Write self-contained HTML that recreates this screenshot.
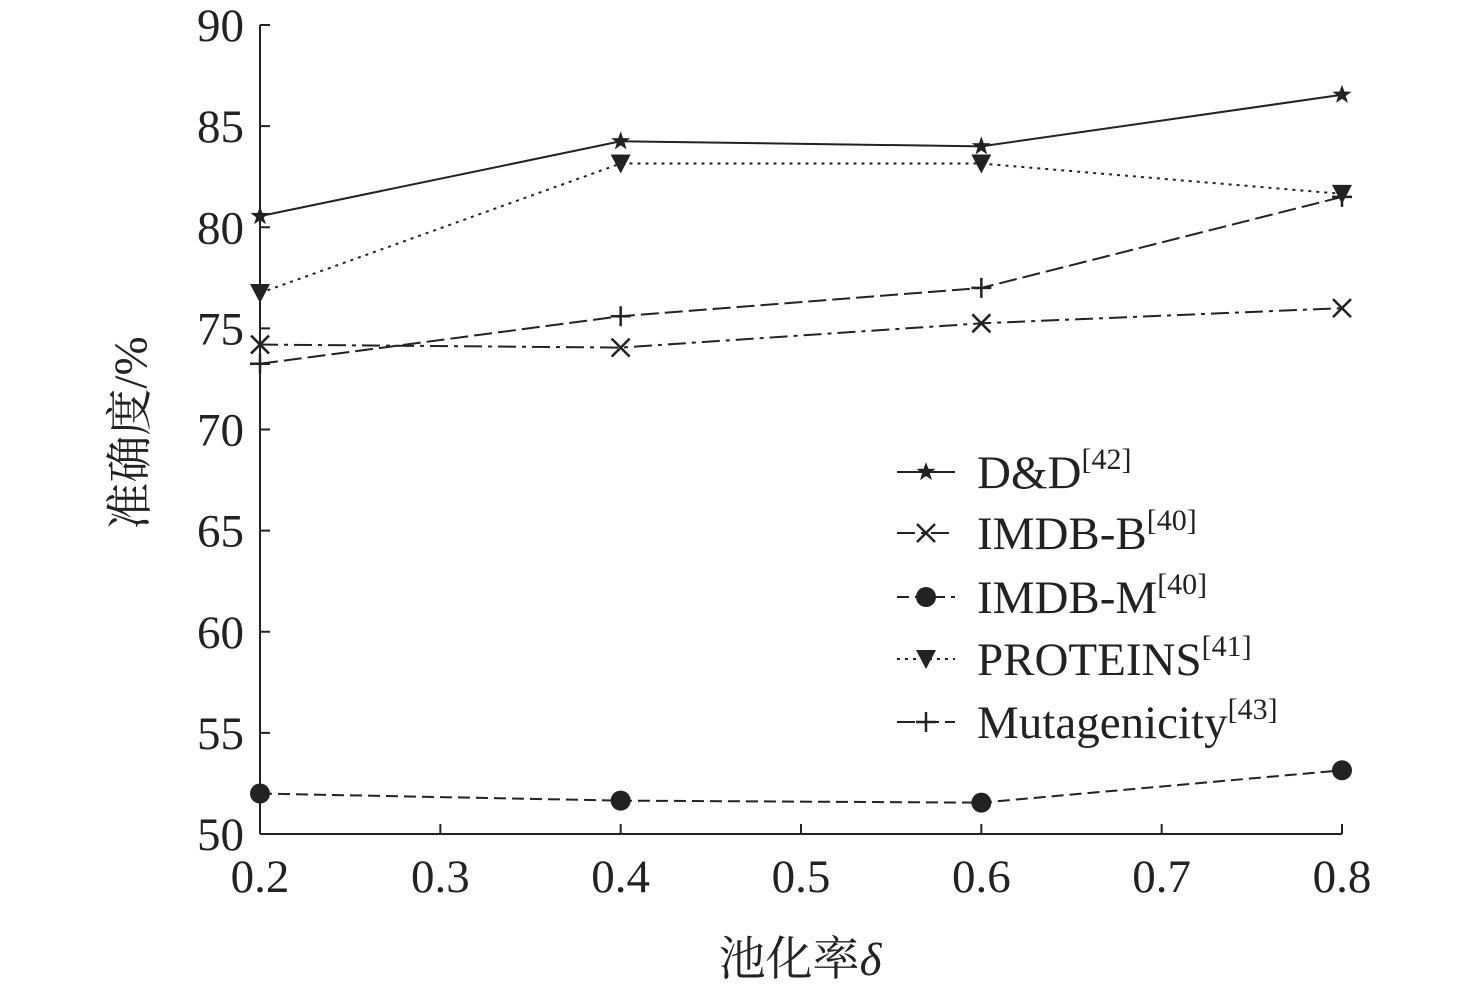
<!DOCTYPE html>
<html><head><meta charset="utf-8"><style>
body{margin:0;background:#fff}
svg text{font-family:"Liberation Serif","Noto Serif CJK SC",serif;fill:#222}
</style></head><body>
<svg id="chart" width="1476" height="993" viewBox="0 0 1476 993" xmlns="http://www.w3.org/2000/svg">
<g id="axes"></g><g id="series"></g><g id="legend"></g>
<text transform="translate(146,433) rotate(-90)" text-anchor="middle" font-size="47">准确度/%</text>
<text x="800" y="975" text-anchor="middle" font-size="47">池化率<tspan font-style="italic">δ</tspan></text>
</svg>
<script>
const xTicks=[0.2,0.3,0.4,0.5,0.6,0.7,0.8];
const yTicks=[50,55,60,65,70,75,80,85,90];
const xValues=[0.2,0.4,0.6,0.8];
const seriesNames=["D&D","IMDB-B","IMDB-M","PROTEINS","Mutagenicity"];
const seriesRefs=["[42]","[40]","[40]","[41]","[43]"];
const ddValues=[80.55,84.25,84.0,86.55];
const imdbBValues=[74.2,74.05,75.25,76.0];
const imdbMValues=[52.0,51.65,51.55,53.15];
const proteinsValues=[76.75,83.15,83.15,81.65];
const mutagValues=[73.25,75.6,77.0,81.5];
const allSeries=[ddValues,imdbBValues,imdbMValues,proteinsValues,mutagValues];
const dashes=["none","18,6,4,6","12,6","3,5","18,6"];
const markers=["star","x","circle","tri","plus"];
const NS="http://www.w3.org/2000/svg";
const X0=260,X1=1342,Y0=834,Y1=25;
const sx=v=>X0+(v-0.2)/0.6*(X1-X0);
const sy=v=>Y0-(v-50)/40*(Y0-Y1);
function mk(t,a,p){const e=document.createElementNS(NS,t);for(const k in a)e.setAttribute(k,a[k]);p.appendChild(e);return e;}
const axes=document.getElementById('axes');
let e=mk('line',{x1:X0,y1:Y1,x2:X0,y2:Y0,stroke:'#222','stroke-width':2},axes);


e=mk('line',{x1:X0,y1:Y0,x2:X1,y2:Y0,stroke:'#222','stroke-width':2},axes);


yTicks.forEach(v=>{mk('line',{x1:X0,y1:sy(v),x2:X0+10,y2:sy(v),stroke:'#222','stroke-width':2},axes);
const t=mk('text',{x:X0-16,y:sy(v)+16,'text-anchor':'end','font-size':47},axes);t.textContent=v;

});
xTicks.forEach(v=>{mk('line',{x1:sx(v),y1:Y0,x2:sx(v),y2:Y0-10,stroke:'#222','stroke-width':2},axes);
const t=mk('text',{x:sx(v),y:Y0+58,'text-anchor':'middle','font-size':47},axes);t.textContent=v.toFixed(1);

});
function marker(type,x,y,p){
 if(type==='star'){let pts=[];for(let i=0;i<10;i++){const r=i%2?4:10,a=-Math.PI/2+i*Math.PI/5;pts.push((x+r*Math.cos(a)).toFixed(1)+','+(y+r*Math.sin(a)).toFixed(1));}mk('polygon',{points:pts.join(' '),fill:'#222'},p);}
 else if(type==='x'){mk('path',{d:`M${x-9},${y-9}L${x+9},${y+9}M${x-9},${y+9}L${x+9},${y-9}`,stroke:'#222','stroke-width':2.5},p);}
 else if(type==='circle'){mk('circle',{cx:x,cy:y,r:10,fill:'#222'},p);}
 else if(type==='tri'){mk('polygon',{points:`${x-10},${y-9} ${x+10},${y-9} ${x},${y+10}`,fill:'#222'},p);}
 else {mk('path',{d:`M${x-10},${y}L${x+10},${y}M${x},${y-10}L${x},${y+10}`,stroke:'#222','stroke-width':2.5},p);}
}
const sg=document.getElementById('series');
allSeries.forEach((vals,si)=>{
 const g=mk('g',{},sg);
 
 
 mk('polyline',{points:vals.map((v,i)=>sx(xValues[i])+','+sy(v)).join(' '),fill:'none',stroke:'#222','stroke-width':2,'stroke-dasharray':dashes[si]},g);
 vals.forEach((v,i)=>marker(markers[si],sx(xValues[i]),sy(v),g));
});
const lg=document.getElementById('legend');
const rows=[472,533,597,659,722];
seriesNames.forEach((n,i)=>{
 const g=mk('g',{},lg);
 
 
 mk('line',{x1:897,y1:rows[i],x2:955,y2:rows[i],stroke:'#222','stroke-width':2,'stroke-dasharray':dashes[i]},g);
 marker(markers[i],926,rows[i],g);
 const t=mk('text',{x:977,y:rows[i]+16,'font-size':47},g);
 t.textContent=n;
 const s=mk('tspan',{'font-size':30,dy:-19},t);s.textContent=seriesRefs[i];
});
</script>
</body></html>
